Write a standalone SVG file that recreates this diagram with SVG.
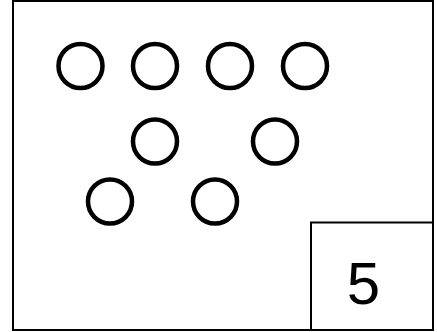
<svg xmlns="http://www.w3.org/2000/svg" width="437" height="332" viewBox="0 0 437 332">
<style>
.frame{fill:#fff;stroke:#000;stroke-width:2}
.dot{fill:none;stroke:#000;stroke-width:4.5}
.num{font-family:"Liberation Sans",Arial,sans-serif;font-size:60px;fill:#000;text-anchor:middle}
</style>
<rect x="0" y="0" width="437" height="332" fill="#fff"/>
<g id="frame"><rect class="frame" x="13" y="1" width="420" height="329"/></g>
<g id="circles">
<circle id="c1" class="dot" cx="80.5" cy="66" r="22"/>
<circle id="c2" class="dot" cx="155" cy="66" r="22"/>
<circle id="c3" class="dot" cx="230" cy="66" r="22"/>
<circle id="c4" class="dot" cx="305" cy="66" r="22"/>
<circle id="c5" class="dot" cx="155" cy="141.5" r="22"/>
<circle id="c6" class="dot" cx="275" cy="141.5" r="22"/>
<circle id="c7" class="dot" cx="110" cy="201.5" r="22"/>
<circle id="c8" class="dot" cx="215" cy="201.5" r="22"/>
</g>
<g id="label"><rect class="frame" x="311" y="222.5" width="122" height="107.5"/>
<text class="num" x="363.5" y="303.5">5</text></g>
</svg>
